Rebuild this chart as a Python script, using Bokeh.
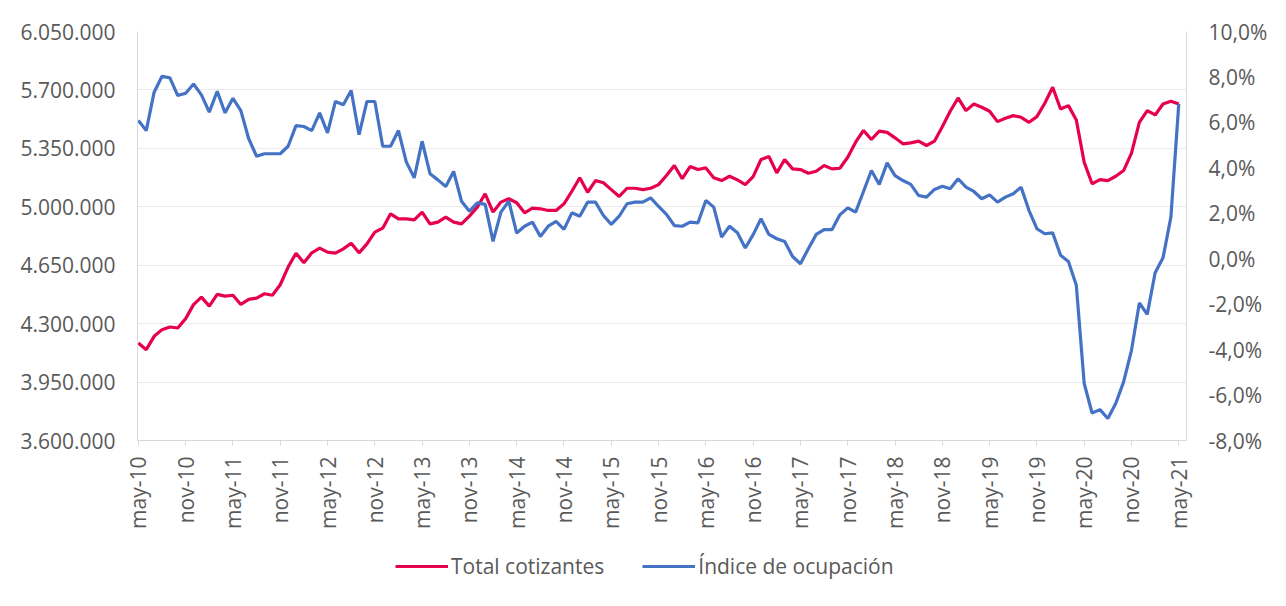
import math
from bokeh.plotting import figure
from bokeh.layouts import column
from bokeh.models import Range1d, LinearAxis, FixedTicker, Legend, LegendItem
from bokeh.embed import file_html
from bokeh.resources import INLINE

# ---- data ----
month_labels = ["may-10", "nov-10", "may-11", "nov-11", "may-12", "nov-12", "may-13", "nov-13",
                "may-14", "nov-14", "may-15", "nov-15", "may-16", "nov-16", "may-17", "nov-17",
                "may-18", "nov-18", "may-19", "nov-19", "may-20", "nov-20", "may-21"]

total_cotizantes = [
    4184000, 4144000, 4224000, 4264000, 4280000, 4274000, 4330000, 4414000, 4459000, 4405000,
    4475000, 4465000, 4470000, 4415000, 4445000, 4453000, 4479000, 4470000, 4533000, 4639000,
    4722000, 4665000, 4724000, 4752000, 4728000, 4722000, 4748000, 4782000, 4724000, 4778000,
    4848000, 4872000, 4958000, 4928000, 4928000, 4922000, 4968000, 4898000, 4908000, 4938000,
    4908000, 4898000, 4944000, 4998000, 5078000, 4968000, 5028000, 5048000, 5024000, 4964000,
    4992000, 4988000, 4978000, 4978000, 5018000, 5093000, 5174000, 5087000, 5157000, 5144000,
    5103000, 5062000, 5111000, 5111000, 5103000, 5111000, 5133000, 5187000, 5247000, 5168000,
    5241000, 5223000, 5233000, 5174000, 5157000, 5183000, 5161000, 5133000, 5181000, 5283000,
    5301000, 5203000, 5283000, 5227000, 5223000, 5201000, 5213000, 5247000, 5227000, 5231000,
    5297000, 5387000, 5457000, 5403000, 5453000, 5446000, 5413000, 5377000, 5383000, 5393000,
    5367000, 5393000, 5480000, 5572000, 5652000, 5576000, 5616000, 5596000, 5572000, 5510000,
    5530000, 5546000, 5536000, 5506000, 5540000, 5620000, 5716000, 5586000, 5606000, 5520000,
    5267000, 5138000, 5163000, 5157000, 5183000, 5217000, 5321000, 5506000, 5576000, 5550000,
    5616000, 5632000, 5616000]

indice_ocupacion = [
    6.08, 5.64, 7.33, 8.03, 7.96, 7.18, 7.28, 7.69, 7.21, 6.45,
    7.37, 6.42, 7.06, 6.52, 5.28, 4.51, 4.62, 4.62, 4.62, 4.95,
    5.86, 5.82, 5.64, 6.42, 5.54, 6.92, 6.78, 7.40, 5.46, 6.92,
    6.92, 4.95, 4.95, 5.64, 4.25, 3.56, 5.17, 3.74, 3.47, 3.18,
    3.84, 2.53, 2.09, 2.46, 2.39, 0.76, 2.05, 2.53, 1.13, 1.43,
    1.61, 0.98, 1.43, 1.64, 1.29, 2.02, 1.87, 2.49, 2.49, 1.90,
    1.51, 1.87, 2.42, 2.49, 2.49, 2.68, 2.30, 1.95, 1.46, 1.43,
    1.61, 1.58, 2.56, 2.27, 0.95, 1.43, 1.14, 0.47, 1.06, 1.76,
    1.07, 0.88, 0.76, 0.10, -0.22, 0.44, 1.07, 1.28, 1.28, 1.93,
    2.24, 2.05, 2.96, 3.88, 3.27, 4.22, 3.66, 3.44, 3.27, 2.78,
    2.71, 3.05, 3.19, 3.08, 3.52, 3.15, 2.96, 2.64, 2.81, 2.49,
    2.71, 2.86, 3.15, 2.12, 1.32, 1.10, 1.14, 0.15, -0.12, -1.17,
    -5.49, -6.79, -6.64, -7.03, -6.37, -5.42, -4.03, -1.95, -2.45, -0.62,
    0.04, 1.83, 6.81]

series_names = ["Total cotizantes", "Índice de ocupación"]
left_ticks = [3600000, 3950000, 4300000, 4650000, 5000000, 5350000, 5700000, 6050000]
right_ticks = [-8, -6, -4, -2, 0, 2, 4, 6, 8, 10]

months = list(range(len(total_cotizantes)))
x_ticks = list(range(0, len(total_cotizantes), 6))

FONT = "Open Sans"
TXT = "#595959"
FS = "21px"
RED = "#E6004F"
BLUE = "#4472C4"

p = figure(frame_width=1049, frame_height=409, output_backend="svg", toolbar_location=None,
           x_range=Range1d(-0.11, 132.98), y_range=Range1d(3600000, 6050000),
           min_border_left=137, min_border_right=84, min_border_top=31, min_border_bottom=110,
           x_axis_location=None, y_axis_location=None)
p.extra_y_ranges = {"pct": Range1d(-8, 10)}
p.outline_line_color = None
p.background_fill_color = "white"
p.border_fill_color = "white"

# left axis
la = LinearAxis(ticker=FixedTicker(ticks=left_ticks))
la.major_label_overrides = {t: f"{t:,}".replace(",", ".") for t in left_ticks}
la.axis_line_color = "#D9D9D9"
la.major_tick_out = 0
la.major_tick_in = 0
la.minor_tick_out = 0
la.minor_tick_in = 0
la.major_label_standoff = 22
la.major_label_text_font = FONT
la.major_label_text_font_size = FS
la.major_label_text_color = TXT
p.add_layout(la, "left")

# right axis
ra = LinearAxis(y_range_name="pct", ticker=FixedTicker(ticks=right_ticks))
ra.major_label_overrides = {t: f"{t:.1f}".replace(".", ",") + "%" for t in right_ticks}
ra.axis_line_color = "#D9D9D9"
ra.major_tick_out = 0
ra.major_tick_in = 0
ra.minor_tick_out = 0
ra.minor_tick_in = 0
ra.major_label_standoff = 22
ra.major_label_text_font = FONT
ra.major_label_text_font_size = FS
ra.major_label_text_color = TXT
p.add_layout(ra, "right")

# x axis
xa = LinearAxis(ticker=FixedTicker(ticks=x_ticks))
xa.major_label_overrides = {t: month_labels[i] for i, t in enumerate(x_ticks)}
xa.major_label_orientation = math.pi / 2
xa.axis_line_color = "#D9D9D9"
xa.major_tick_line_color = "#D9D9D9"
xa.major_tick_out = 5
xa.major_tick_in = 0
xa.minor_tick_out = 0
xa.minor_tick_in = 0
xa.major_label_standoff = 11
xa.major_label_text_font = FONT
xa.major_label_text_font_size = FS
xa.major_label_text_color = TXT
p.add_layout(xa, "below")

p.ygrid.grid_line_color = "#EBEBEB"
p.ygrid.ticker = FixedTicker(ticks=left_ticks)
p.xgrid.grid_line_color = None

r1 = p.line(months, total_cotizantes, line_color=RED, line_width=3.2)
r2 = p.line(months, indice_ocupacion, y_range_name="pct", line_color=BLUE, line_width=3.2)

# legend strip under the chart (its frame is aligned with the chart frame)
pl = figure(width=1270, height=40, output_backend="svg", toolbar_location=None,
            x_range=Range1d(0, 1), y_range=Range1d(0, 1),
            min_border_left=0, min_border_right=0, min_border_top=0, min_border_bottom=0,
            x_axis_location=None, y_axis_location=None)
pl.outline_line_color = None
pl.xgrid.grid_line_color = None
pl.ygrid.grid_line_color = None
# legend-only proxies (a single point outside the range draws nothing)
lr1 = pl.line([-5], [-5], line_color=RED, line_width=3.2)
lr2 = pl.line([-5], [-5], line_color=BLUE, line_width=3.2)

legend = Legend(items=[LegendItem(label=series_names[0], renderers=[lr1]),
                       LegendItem(label=series_names[1], renderers=[lr2])],
                orientation="horizontal", location=(258, 10))
legend.label_text_font = FONT
legend.label_text_font_size = FS
legend.label_text_color = TXT
legend.glyph_width = 53
legend.label_standoff = 3
legend.spacing = 38
legend.border_line_color = None
legend.background_fill_alpha = 0
legend.margin = 0
legend.padding = 0
pl.add_layout(legend, "center")

layout = column(p, pl, spacing=0)
open("out.html", "w").write(file_html(layout, INLINE))
